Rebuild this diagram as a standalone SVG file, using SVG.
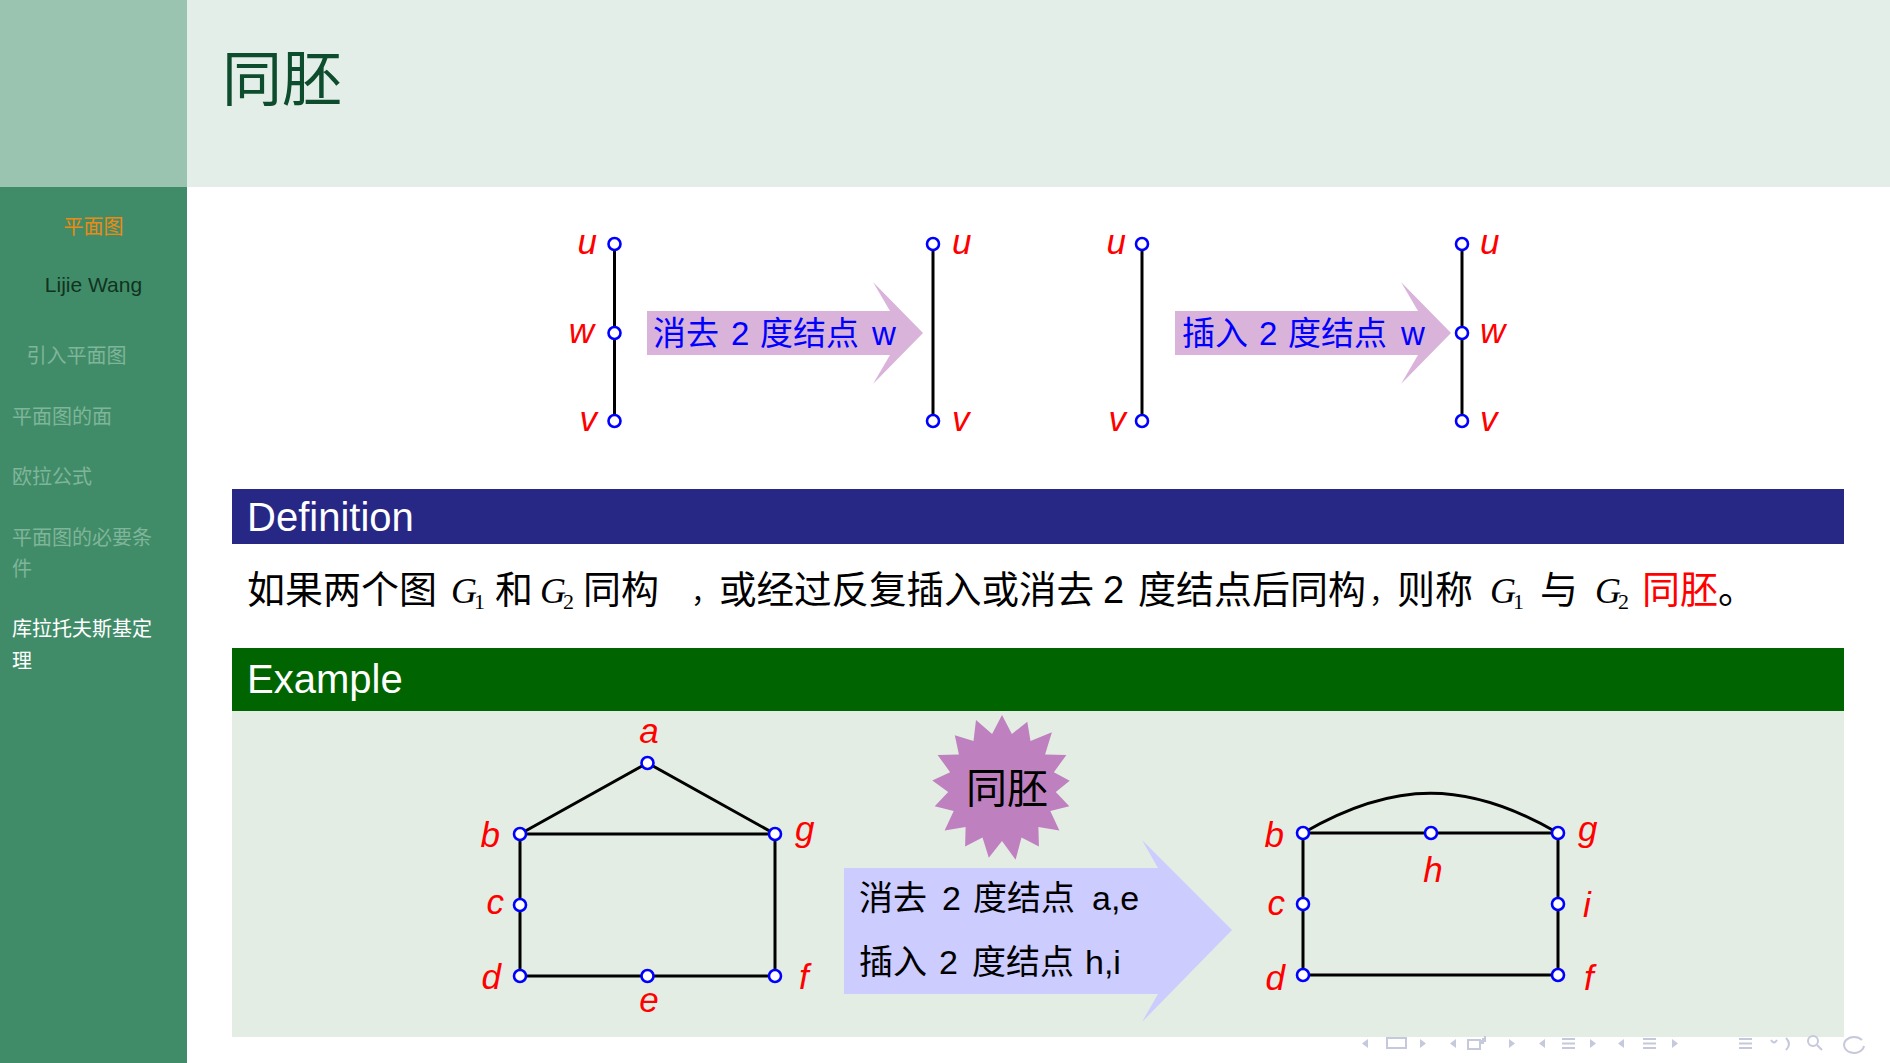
<svg xmlns="http://www.w3.org/2000/svg" width="1890" height="1063" viewBox="0 0 1890 1063">
<style>
.cjk{font-family:"Noto Sans CJK SC","Liberation Sans",sans-serif}
.side{font-family:"Noto Sans CJK SC","Liberation Sans",sans-serif;font-size:20px}
.dim{fill:#7FB59A}
.lbl{font-family:"Liberation Sans","DejaVu Sans",sans-serif;font-style:italic;font-size:35px;fill:#FF0000}
.edge{stroke:#000;stroke-width:3;fill:none}
.node{fill:#fff;stroke:#0000FF;stroke-width:2.6}
.mathG{font-family:"Liberation Serif",serif;font-style:italic;font-size:36px}
.sub{font-family:"Liberation Serif",serif;font-size:22px}
.nav{fill:#C6C9DB;stroke:none}
.navs{fill:none;stroke:#C6C9DB;stroke-width:2}
</style>
<defs>
<circle id="nd" r="6" class="node"/>
</defs>

<!-- backgrounds -->
<rect x="0" y="0" width="1890" height="1063" fill="#FFFFFF"/>
<rect x="0" y="0" width="187" height="187" fill="#9BC4B0"/>
<rect x="0" y="187" width="187" height="876" fill="#418C68"/>
<rect x="187" y="0" width="1703" height="187" fill="#E3EEE8"/>

<!-- title -->
<text x="222" y="101" class="cjk" font-size="60" fill="#0D4C2C">同胚</text>

<!-- sidebar -->
<g id="sidebar">
<text x="93.5" y="234" class="side" fill="#EE8A12" text-anchor="middle">平面图</text>
<text x="93.5" y="292" font-family="Liberation Sans, sans-serif" font-size="21" fill="#10331F" text-anchor="middle">Lijie Wang</text>
<text x="26.5" y="363" class="side dim">引入平面图</text>
<text x="12" y="424" class="side dim">平面图的面</text>
<text x="12" y="484" class="side dim">欧拉公式</text>
<text x="12" y="545" class="side dim">平面图的必要条</text>
<text x="12" y="576" class="side dim">件</text>
<text x="12" y="636" class="side" fill="#FFFFFF">库拉托夫斯基定</text>
<text x="12" y="668" class="side" fill="#FFFFFF">理</text>
</g>

<!-- top: arrows -->
<g id="arrow1">
<polygon points="647,311 890,311 873,282 923,333 873,384 890,355 647,355" fill="#D9B3D9"/>
<text y="345" class="cjk" font-size="33" fill="#0000FF"><tspan x="653">消去</tspan><tspan x="731" font-family="Liberation Sans, sans-serif">2</tspan><tspan x="760">度结点</tspan><tspan x="872" font-family="Liberation Sans, sans-serif">w</tspan></text>
</g>
<g id="arrow2">
<polygon points="1175,311 1418,311 1401,282 1451,333 1401,384 1418,355 1175,355" fill="#D9B3D9"/>
<text y="345" class="cjk" font-size="33" fill="#0000FF"><tspan x="1182">插入</tspan><tspan x="1259" font-family="Liberation Sans, sans-serif">2</tspan><tspan x="1288">度结点</tspan><tspan x="1401" font-family="Liberation Sans, sans-serif">w</tspan></text>
</g>

<!-- connectors -->
<g id="connectors">
<line class="edge" x1="614.5" y1="244" x2="614.5" y2="421"/>
<line class="edge" x1="933" y1="244" x2="933" y2="421"/>
<line class="edge" x1="1142" y1="244" x2="1142" y2="421"/>
<line class="edge" x1="1462" y1="244" x2="1462" y2="421"/>
</g>

<!-- top nodes -->
<g id="g1-u"><use href="#nd" x="614.5" y="244"/><text x="597" y="254" class="lbl" text-anchor="end">u</text></g>
<g id="g1-w"><use href="#nd" x="614.5" y="333"/><text x="594" y="343" class="lbl" text-anchor="end">w</text></g>
<g id="g1-v"><use href="#nd" x="614.5" y="421"/><text x="597" y="431" class="lbl" text-anchor="end">v</text></g>
<g id="g2-u"><use href="#nd" x="933" y="244"/><text x="952" y="254" class="lbl">u</text></g>
<g id="g2-v"><use href="#nd" x="933" y="421"/><text x="952" y="431" class="lbl">v</text></g>
<g id="g3-u"><use href="#nd" x="1142" y="244"/><text x="1126" y="254" class="lbl" text-anchor="end">u</text></g>
<g id="g3-v"><use href="#nd" x="1142" y="421"/><text x="1126" y="431" class="lbl" text-anchor="end">v</text></g>
<g id="g4-u"><use href="#nd" x="1462" y="244"/><text x="1480" y="254" class="lbl">u</text></g>
<g id="g4-w"><use href="#nd" x="1462" y="333"/><text x="1480" y="343" class="lbl">w</text></g>
<g id="g4-v"><use href="#nd" x="1462" y="421"/><text x="1480" y="431" class="lbl">v</text></g>

<!-- definition block -->
<g id="definition">
<rect x="232" y="489" width="1612" height="55" fill="#272786"/>
<text x="247" y="531" font-family="Liberation Sans, sans-serif" font-size="40" fill="#FFFFFF">Definition</text>
<text y="603" class="cjk" font-size="38" fill="#000"><tspan x="247">如果两个图</tspan><tspan x="451" class="mathG">G</tspan><tspan x="474" dy="6" class="sub">1</tspan><tspan x="495" dy="-6">和</tspan><tspan x="540" class="mathG">G</tspan><tspan x="563" dy="6" class="sub">2</tspan><tspan x="583" dy="-6">同构</tspan><tspan x="691" font-size="28">，</tspan><tspan x="719" font-size="37.5">或经过反复插入或消去</tspan><tspan x="1103" font-family="Liberation Sans, sans-serif">2</tspan><tspan x="1138">度结点后同构</tspan><tspan x="1369" font-size="28">，</tspan><tspan x="1397">则称</tspan><tspan x="1490" class="mathG">G</tspan><tspan x="1513" dy="6" class="sub">1</tspan><tspan x="1540" dy="-6">与</tspan><tspan x="1595" class="mathG">G</tspan><tspan x="1618" dy="6" class="sub">2</tspan><tspan x="1642" dy="-6" fill="#FF0000">同胚</tspan><tspan x="1718">。</tspan></text>
</g>

<!-- example block -->
<g id="example">
<rect x="232" y="648" width="1612" height="63" fill="#006400"/>
<text x="247" y="693" font-family="Liberation Sans, sans-serif" font-size="40" fill="#FFFFFF">Example</text>
<rect x="232" y="711" width="1612" height="326" fill="#E3EDE3"/>
</g>

<!-- starburst -->
<g id="starburst">
<polygon fill="#BF80BF" points="1002,715 1011.9,733.9 1027.3,721.7 1030.5,741.1 1051.9,732.3 1045.1,754.4 1066.4,754.9 1053.9,772.2 1069.7,780.7 1055.8,792 1069.3,806.2 1050.3,811.1 1059.4,830.4 1038.4,826.9 1038.9,846.5 1021.5,837.4 1015.6,859.7 1002,841 988.8,857.8 982.5,837.4 965.1,846.5 965.6,826.9 944.6,830.4 953.7,811.1 934.7,806.2 948.2,792 932.3,780.5 950.1,772.2 937.6,754.9 958.9,754.4 954.8,735.3 973.5,741.1 976,719.9 992.1,733.9"/>
<text x="1007" y="803" class="cjk" font-size="41" fill="#000" text-anchor="middle">同胚</text>
</g>

<!-- big arrow -->
<g id="arrow3">
<polygon points="844,868 1158,868 1142,840 1232,930 1142,1022 1158,994 844,994" fill="#CCCCFF"/>
<text y="910" class="cjk" font-size="34" fill="#000"><tspan x="859">消去</tspan><tspan x="942" font-family="Liberation Sans, sans-serif">2</tspan><tspan x="973">度结点</tspan><tspan x="1092" font-family="Liberation Sans, sans-serif">a,e</tspan></text>
<text y="974" class="cjk" font-size="34" fill="#000"><tspan x="859">插入</tspan><tspan x="939" font-family="Liberation Sans, sans-serif">2</tspan><tspan x="972">度结点</tspan><tspan x="1085" font-family="Liberation Sans, sans-serif">h,i</tspan></text>
</g>

<!-- bottom graph connectors -->
<g id="connectors-bottom">
<polyline class="edge" points="520,834 647.5,763 775,834"/>
<line class="edge" x1="520" y1="834" x2="775" y2="834"/>
<polyline class="edge" points="520,834 520,976 775,976 775,834"/>
<polyline class="edge" points="1303,833 1303,975 1558,975 1558,833"/>
<line class="edge" x1="1303" y1="833" x2="1558" y2="833"/>
<path class="edge" d="M1303,833 C1394,780 1467,780 1558,833"/>
</g>

<!-- left graph nodes -->
<g id="L-a"><use href="#nd" x="647.5" y="763"/><text x="649" y="743" class="lbl" text-anchor="middle">a</text></g>
<g id="L-b"><use href="#nd" x="520" y="834"/><text x="500" y="847" class="lbl" text-anchor="end">b</text></g>
<g id="L-g"><use href="#nd" x="775" y="834"/><text x="795" y="841" class="lbl">g</text></g>
<g id="L-c"><use href="#nd" x="520" y="905"/><text x="504" y="914" class="lbl" text-anchor="end">c</text></g>
<g id="L-d"><use href="#nd" x="520" y="976"/><text x="501" y="989" class="lbl" text-anchor="end">d</text></g>
<g id="L-e"><use href="#nd" x="647.5" y="976"/><text x="649" y="1012" class="lbl" text-anchor="middle">e</text></g>
<g id="L-f"><use href="#nd" x="775" y="976"/><text x="799" y="989" class="lbl">f</text></g>

<!-- right graph nodes -->
<g id="R-b"><use href="#nd" x="1303" y="833"/><text x="1284" y="847" class="lbl" text-anchor="end">b</text></g>
<g id="R-h"><use href="#nd" x="1431" y="833"/><text x="1433" y="882" class="lbl" text-anchor="middle">h</text></g>
<g id="R-g"><use href="#nd" x="1558" y="833"/><text x="1578" y="841" class="lbl">g</text></g>
<g id="R-c"><use href="#nd" x="1303" y="904"/><text x="1285" y="915" class="lbl" text-anchor="end">c</text></g>
<g id="R-i"><use href="#nd" x="1558" y="904"/><text x="1583" y="917" class="lbl">i</text></g>
<g id="R-d"><use href="#nd" x="1303" y="975"/><text x="1285" y="990" class="lbl" text-anchor="end">d</text></g>
<g id="R-f"><use href="#nd" x="1558" y="975"/><text x="1584" y="990" class="lbl">f</text></g>

<!-- navigation symbols -->
<g id="nav">
<polygon class="nav" points="1368,1039 1368,1048 1362,1043.5"/>
<rect class="navs" x="1387" y="1038" width="19" height="10"/>
<polygon class="nav" points="1420,1039 1420,1048 1426,1043.5"/>
<polygon class="nav" points="1456,1039 1456,1048 1450,1043.5"/>
<rect class="navs" x="1468" y="1040" width="12" height="9"/>
<path class="navs" d="M1480,1043 h3 v-5 M1481,1041 h4 v-5"/>
<polygon class="nav" points="1509,1039 1509,1048 1515,1043.5"/>
<polygon class="nav" points="1545,1039 1545,1048 1539,1043.5"/>
<path class="navs" d="M1562,1039 h13 M1562,1043.5 h13 M1562,1048 h13"/>
<polygon class="nav" points="1590,1039 1590,1048 1596,1043.5"/>
<polygon class="nav" points="1624,1039 1624,1048 1618,1043.5"/>
<path class="navs" d="M1643,1039 h13 M1643,1043.5 h13 M1643,1048 h13"/>
<polygon class="nav" points="1672,1039 1672,1048 1678,1043.5"/>
<path class="navs" d="M1739,1039 h13 M1739,1043.5 h13 M1739,1048 h13"/>
<path class="navs" d="M1771,1040 q3,5 6,0 M1786,1038 q6,6 0,12"/>
<circle class="navs" cx="1813" cy="1041" r="5"/>
<path class="navs" d="M1817,1045 l5,5"/>
<path class="navs" d="M1862,1040 a10,8 0 1 0 2,6"/>
</g>
</svg>
